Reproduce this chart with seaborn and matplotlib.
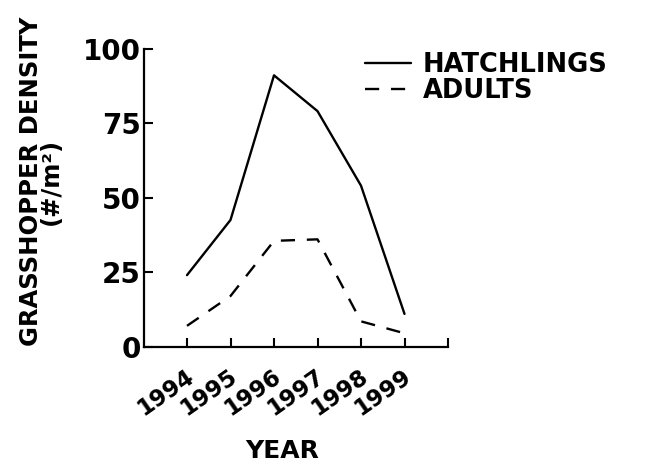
import matplotlib
matplotlib.use("Agg")
import matplotlib.pyplot as plt
import matplotlib.transforms as mtransforms
from matplotlib.lines import Line2D
import seaborn as sns
import pandas as pd

years = [1994, 1995, 1996, 1997, 1998, 1999]
hatchlings = [24, 42.5, 91, 79, 54, 11]
adults = [7, 17, 35.5, 36, 8.5, 4.5]
series_names = ["HATCHLINGS", "ADULTS"]
y_ticks = [0, 25, 50, 75, 100]
x_tick_labels = ["1994", "1995", "1996", "1997", "1998", "1999", ""]

sns.set_theme(style="ticks")
plt.rcParams["font.family"] = ["DejaVu Sans"]
plt.rcParams["font.weight"] = "bold"
for k in ["text.color", "axes.labelcolor", "xtick.color", "ytick.color",
          "xtick.labelcolor", "ytick.labelcolor"]:
    plt.rcParams[k] = "black"

df = pd.DataFrame({
    "year": years * 2,
    "density": hatchlings + adults,
    "series": [series_names[0]] * len(years) + [series_names[1]] * len(years),
})

W, H = 653, 463
fig = plt.figure(figsize=(W / 100, H / 100), dpi=100)
fig.patch.set_facecolor("white")
ax = fig.add_axes([143.5 / W, 1 - 346.7 / H, (448 - 143.5) / W, (346.7 - 48.5) / H])
ax.set_facecolor("white")

dash_style = (6, 5)
sns.lineplot(data=df, x="year", y="density", style="series",
             dashes={series_names[0]: "", series_names[1]: dash_style},
             color="black", linewidth=1.7, ax=ax, legend=False)

ax.set_xlim(1993, 2000)
ax.set_ylim(0, 100)
ax.set_xticks(years + [2000])
ax.set_xticklabels(x_tick_labels)
ax.set_yticks(y_ticks)
ax.set_yticklabels([str(v) for v in y_ticks])
ax.set_xlabel("")
ax.set_ylabel("")

for s in ["top", "right"]:
    ax.spines[s].set_visible(False)
for s in ["left", "bottom"]:
    ax.spines[s].set_linewidth(1.6)
    ax.spines[s].set_color("black")

ax.tick_params(axis="both", direction="in", length=6.5, width=1.5,
               color="black", labelcolor="black")
ax.tick_params(axis="y", labelsize=20, pad=2)
ax.tick_params(axis="x", labelsize=16.5, pad=13)

offset = mtransforms.ScaledTranslation(11 / 100, 0, fig.dpi_scale_trans)
for lab in ax.get_xticklabels():
    lab.set_rotation(35)
    lab.set_ha("right")
    lab.set_va("top")
    lab.set_fontweight("bold")
    lab.set_transform(lab.get_transform() + offset)
for lab in ax.get_yticklabels():
    lab.set_fontweight("bold")

# axis titles
fig.text(41 / W, 1 - 181 / H, "GRASSHOPPER DENSITY\n(#/m²)", rotation=90,
         ha="center", va="center", multialignment="center", linespacing=0.77,
         fontsize=17.5, fontweight="bold", color="black")
fig.text(282 / W, 1 - 451 / H, "YEAR", ha="center", va="center",
         fontsize=18, fontweight="bold", color="black")

handles = [Line2D([], [], color="black", lw=1.7, linestyle="-"),
           Line2D([], [], color="black", lw=1.7, linestyle=(0, dash_style))]
leg = ax.legend(handles, series_names, loc="upper left",
                bbox_to_anchor=(365 / W, 1 - 52 / H), bbox_transform=fig.transFigure,
                frameon=False, borderpad=0, borderaxespad=0,
                handlelength=1.8, handletextpad=0.45, labelspacing=0.0,
                prop={"size": 18.5, "weight": "bold"})
for t in leg.get_texts():
    t.set_color("black")

fig.savefig("out.png", dpi=100, facecolor="white")
